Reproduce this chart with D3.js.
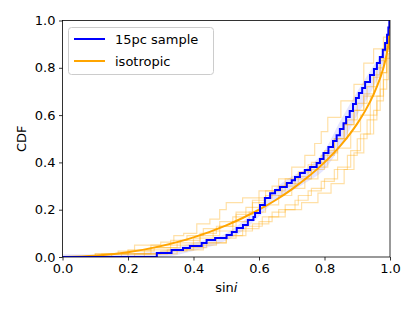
<!DOCTYPE html>
<html>
 <head>
  <title>CDF sin i</title>
  <style>
  body { margin: 0; background: white; }
  svg { display: block; font-family: "DejaVu Sans", sans-serif; }
  </style>
 </head>
 <body>
  <script src="https://cdnjs.cloudflare.com/ajax/libs/d3/7.8.3/d3.min.js"></script>
  <script>
   // 15pc sample: empirical CDF steps [sin i, CDF after step]
   const sampleX = [0, 0.288, 0.333, 0.368, 0.389, 0.425, 0.440, 0.466, 0.501, 0.517, 0.532, 0.551, 0.566, 0.583, 0.588, 0.603, 0.618, 0.634, 0.649, 0.664, 0.685, 0.700, 0.710, 0.725, 0.740, 0.756, 0.776, 0.786, 0.797, 0.812, 0.826, 0.837, 0.847, 0.858, 0.866, 0.877, 0.887, 0.896, 0.905, 0.915, 0.924, 0.939, 0.951, 0.960, 0.969, 0.978, 0.985, 0.991, 0.995, 0.998];
   const sampleY = [0, 0.017, 0.030, 0.038, 0.046, 0.059, 0.072, 0.080, 0.093, 0.106, 0.123, 0.135, 0.156, 0.169, 0.186, 0.220, 0.250, 0.270, 0.283, 0.296, 0.313, 0.325, 0.338, 0.355, 0.368, 0.381, 0.397, 0.414, 0.440, 0.465, 0.490, 0.515, 0.541, 0.566, 0.592, 0.617, 0.647, 0.672, 0.693, 0.715, 0.740, 0.770, 0.795, 0.820, 0.846, 0.876, 0.905, 0.940, 0.970, 1.000];

   // light blue spread around the sample
   const bandX  = [0, 0.1, 0.2, 0.3, 0.4, 0.5, 0.55, 0.6, 0.65, 0.7, 0.75, 0.8, 0.85, 0.9, 0.95, 0.98, 1.0];
   const bandLo = [0, 0, 0, 0, 0.025, 0.07, 0.11, 0.17, 0.24, 0.28, 0.32, 0.37, 0.47, 0.60, 0.72, 0.82, 0.97];
   const bandHi = [0.012, 0.012, 0.015, 0.025, 0.06, 0.10, 0.15, 0.21, 0.29, 0.34, 0.38, 0.45, 0.58, 0.70, 0.81, 0.88, 1.0];

   // isotropic curve
   const isoX = [0, 0.1, 0.2, 0.3, 0.4, 0.5, 0.55, 0.6, 0.65, 0.7, 0.75, 0.8, 0.85, 0.9, 0.925, 0.95, 0.97, 0.98, 0.99, 0.995, 1.0];
   const isoY = [0, 0.005, 0.02, 0.046, 0.083, 0.134, 0.165, 0.2, 0.24, 0.286, 0.339, 0.4, 0.473, 0.564, 0.62, 0.688, 0.757, 0.8, 0.859, 0.9, 1.0];

   // faint isotropic draws, [sin i, CDF] steps
   const draw1 = [[0,0],[0.1,0.013],[0.17,0.025],[0.22,0.05],[0.3,0.063],[0.34,0.09],[0.37,0.1],[0.41,0.14],[0.45,0.16],[0.48,0.2],[0.5,0.23],[0.55,0.25],[0.6,0.28],[0.64,0.3],[0.68,0.33],[0.72,0.36],[0.76,0.4],[0.8,0.45],[0.83,0.5],[0.86,0.56],[0.89,0.62],[0.92,0.69],[0.95,0.77],[0.97,0.84],[0.99,0.92],[1,1]];
   const draw2 = [[0,0],[0.12,0.013],[0.2,0.03],[0.27,0.05],[0.33,0.07],[0.38,0.09],[0.43,0.12],[0.48,0.15],[0.53,0.19],[0.58,0.23],[0.62,0.26],[0.67,0.3],[0.71,0.34],[0.75,0.39],[0.79,0.43],[0.83,0.5],[0.86,0.56],[0.89,0.62],[0.92,0.68],[0.95,0.76],[0.97,0.83],[0.99,0.9],[1,1]];
   const draw3 = [[0,0],[0.2,0.013],[0.3,0.025],[0.38,0.04],[0.44,0.06],[0.5,0.09],[0.55,0.12],[0.6,0.15],[0.64,0.19],[0.68,0.22],[0.72,0.26],[0.76,0.29],[0.8,0.33],[0.84,0.38],[0.88,0.45],[0.91,0.52],[0.94,0.6],[0.96,0.68],[0.98,0.78],[0.99,0.88],[1,1]];
   const draw4 = [[0,0],[0.15,0.013],[0.25,0.03],[0.33,0.05],[0.4,0.08],[0.46,0.11],[0.52,0.15],[0.57,0.19],[0.62,0.22],[0.66,0.26],[0.7,0.29],[0.74,0.33],[0.78,0.38],[0.81,0.44],[0.84,0.5],[0.87,0.58],[0.9,0.65],[0.93,0.72],[0.96,0.8],[0.98,0.87],[1,1]];
   const draw5 = [[0,0],[0.22,0.013],[0.32,0.03],[0.4,0.05],[0.47,0.08],[0.53,0.11],[0.58,0.14],[0.63,0.17],[0.68,0.2],[0.73,0.23],[0.78,0.27],[0.82,0.31],[0.86,0.37],[0.89,0.44],[0.92,0.52],[0.95,0.62],[0.97,0.71],[0.99,0.84],[1,1]];
   const draw6 = [[0,0],[0.1,0.013],[0.2,0.025],[0.28,0.04],[0.36,0.07],[0.42,0.1],[0.47,0.13],[0.52,0.17],[0.56,0.21],[0.6,0.25],[0.64,0.28],[0.68,0.31],[0.72,0.33],[0.76,0.37],[0.8,0.41],[0.84,0.46],[0.88,0.53],[0.91,0.6],[0.94,0.68],[0.97,0.78],[0.99,0.88],[1,1]];
   const draw7 = [[0,0],[0.18,0.013],[0.27,0.04],[0.35,0.06],[0.42,0.09],[0.48,0.13],[0.53,0.18],[0.58,0.24],[0.62,0.28],[0.66,0.33],[0.7,0.38],[0.74,0.43],[0.77,0.48],[0.79,0.53],[0.81,0.59],[0.85,0.66],[0.89,0.73],[0.92,0.82],[0.95,0.88],[0.98,0.93],[1,1]];
   const draw8 = [[0,0],[0.25,0.013],[0.35,0.03],[0.43,0.06],[0.5,0.09],[0.56,0.13],[0.61,0.17],[0.66,0.2],[0.71,0.24],[0.75,0.28],[0.79,0.32],[0.83,0.37],[0.87,0.43],[0.9,0.5],[0.93,0.58],[0.96,0.66],[0.98,0.75],[0.995,0.86],[1,1]];
   const draws = [draw1, draw2, draw3, draw4, draw5, draw6, draw7, draw8];

   const xTicks = [0, 0.2, 0.4, 0.6, 0.8, 1.0];
   const yTicks = [0, 0.2, 0.4, 0.6, 0.8, 1.0];
   const seriesNames = ["15pc sample", "isotropic"];

   const w = 415, h = 311;
   const mLeft = 62.5, mRight = 390, mTop = 20.5, mBottom = 257;

   const xScale = d3.scaleLinear().domain([0, 1]).range([mLeft, mRight]);
   const yScale = d3.scaleLinear().domain([0, 1]).range([mBottom, mTop]);

   const svg = d3.select("body").append("svg")
                 .attr("width", w)
                 .attr("height", h);

   svg.append("defs").append("clipPath").attr("id", "clip")
      .append("rect")
      .attr("x", mLeft).attr("y", mTop - 1)
      .attr("width", mRight - mLeft).attr("height", mBottom - mTop + 1);

   const plot = svg.append("g").attr("clip-path", "url(#clip)");

   // band
   const band = bandX.map((x, i) => [x, bandLo[i], bandHi[i]]);
   plot.append("path")
       .datum(band)
       .attr("d", d3.area().x(d => xScale(d[0])).y0(d => yScale(d[1])).y1(d => yScale(d[2])).curve(d3.curveMonotoneX))
       .attr("fill", "#0000ff")
       .attr("opacity", 0.1);

   const stepLine = d3.line().x(d => xScale(d[0])).y(d => yScale(d[1])).curve(d3.curveStepAfter);

   plot.selectAll(".draw")
       .data(draws)
       .enter()
       .append("path")
       .attr("class", "draw")
       .attr("d", stepLine)
       .attr("fill", "none")
       .attr("stroke", "orange")
       .attr("stroke-opacity", 0.35)
       .attr("stroke-width", 1.2);

   const iso = isoX.map((x, i) => [x, isoY[i]]);
   plot.append("path")
       .datum(iso)
       .attr("d", d3.line().x(d => xScale(d[0])).y(d => yScale(d[1])).curve(d3.curveMonotoneX))
       .attr("fill", "none")
       .attr("stroke", "orange")
       .attr("stroke-width", 2);

   const sample = sampleX.map((x, i) => [x, sampleY[i]]);
   plot.append("path")
       .datum(sample)
       .attr("d", stepLine)
       .attr("fill", "none")
       .attr("stroke", "#0000ff")
       .attr("stroke-width", 2);

   // axes
   const xAxis = d3.axisBottom(xScale).tickValues(xTicks).tickFormat(d3.format(".1f")).tickSize(3.5).tickPadding(3.5);
   const yAxis = d3.axisLeft(yScale).tickValues(yTicks).tickFormat(d3.format(".1f")).tickSize(3.5).tickPadding(3.5);
   const gx = svg.append("g")
      .attr("transform", "translate(0," + mBottom + ")")
      .call(xAxis);
   const gy = svg.append("g")
      .attr("transform", "translate(" + mLeft + ",0)")
      .call(yAxis);
   [gx, gy].forEach(g => {
     g.select(".domain").remove();
     g.selectAll("line").attr("stroke", "#000").attr("stroke-width", 0.8);
     g.selectAll("text").attr("font-size", 13).attr("fill", "#000").attr("font-family", "DejaVu Sans");
   });

   svg.append("rect")
      .attr("x", mLeft).attr("y", mTop)
      .attr("width", mRight - mLeft).attr("height", mBottom - mTop)
      .attr("fill", "none")
      .attr("stroke", "#000")
      .attr("stroke-width", 0.8);

   // labels
   const xl = svg.append("text")
      .attr("x", (mLeft + mRight) / 2).attr("y", 292)
      .attr("text-anchor", "middle")
      .attr("font-size", 13);
   xl.append("tspan").text("sin");
   xl.append("tspan").attr("font-style", "italic").text("i");

   svg.append("text")
      .attr("transform", "translate(26," + ((mTop + mBottom) / 2) + ") rotate(-90)")
      .attr("text-anchor", "middle")
      .attr("font-size", 13)
      .text("CDF");

   // legend
   const lg = svg.append("g");
   lg.append("rect")
     .attr("x", 68.5).attr("y", 27.5)
     .attr("width", 145).attr("height", 47)
     .attr("rx", 3)
     .attr("fill", "white")
     .attr("fill-opacity", 0.8)
     .attr("stroke", "#ccc")
     .attr("stroke-width", 1);
   const colors = ["#0000ff", "orange"];
   seriesNames.forEach((name, i) => {
     const y = 39 + i * 22;
     lg.append("line")
       .attr("x1", 74).attr("x2", 105).attr("y1", y).attr("y2", y)
       .attr("stroke", colors[i]).attr("stroke-width", 2);
     lg.append("text")
       .attr("x", 115).attr("y", y + 5)
       .attr("font-size", 13)
       .text(name);
   });
  </script>
 </body>
</html>
